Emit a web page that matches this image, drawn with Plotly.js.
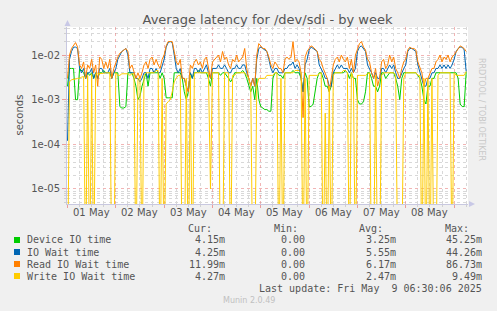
<!DOCTYPE html>
<html><head><meta charset="utf-8">
<script src="https://cdn.plot.ly/plotly-3.0.1.min.js"></script>
<style>html,body{margin:0;padding:0;background:#F0F0F0;}#chart{width:497px;height:311px;}</style>
</head><body><div id="chart"></div>
<script>
// Hourly samples, hour 0 = 01 May 00:00, values in milliseconds
const deviceIO = [2,5,5,5,1.0,1.0,
5,4.5,4,3,4,3.5,4,3,4,3,4,4,4.5,4,4,4,3,4,
4,4,0.7,0.65,0.65,0.7,4,4,4,3,2,1,1.2,2,3,4,2,4,4,4,4,4,3,4,
3,1.1,1.1,1.1,1.1,4,4,4,4,3,1.5,1,1.5,4,3,4,4,4.5,4,4,4,4,3,2,
4,4,4,4,3.5,4,4,3.5,3,2.5,3,4,4,4,4,4.5,4,3,2,1.5,2,1,3,1,
0.7,0.65,0.6,0.6,0.55,0.55,3,4,4,3.5,3.5,3,4,4,4,4,4.5,4,4,4,3,1.5,4,3,
0.7,0.7,0.8,1.5,3,4,4,3,2,2,1.5,2,4,4,4,4,4,4,4.5,4,3,4,3,3,
1,0.8,0.8,0.9,1.5,4,4,3,2,2,1.5,2,4,4,3,3.5,4,4,4,3,2,1,3,4,
4,4,4,4,4,4,3.5,3,2,1,0.8,2,2,3,3,4,4,4,4,4,4,4,4,4,
4,4,3,0.8,0.7,0.7,4.15];
const ioWait = [0.12,8,12,15,15,14,
5,4,5,3,4,4,5,3,4,3,5,5,4,4,4,5,3,4,
5,8,10,12,13,14,10,4,4,4,3,3,2.5,3,4,4,3,5,5,4,5,4,4,6,
8,15,19,20,19,10,5,4,5,3,3,2,1.5,4,3,5,5,4,5,4,5,6,4,3,
5,5,5,6,5,5,6,5,4,4,5,5,6,5,5,6,6,4,3,2,3,2,8,14,
15,14,13,12,8,5,4,5,5,4,4,4,5,5,6,6,7,5,6,5,3,1.5,6,8,
13,15,14,13,12,6,5,4,3,3,2,2,4,5,6,5,6,5,5,5,4,5,4,5,
12,15,16,14,12,6,5,4,3,4,3,3,5,5,4,5,6,5,6,4,3,3,4,5,
6,12,14,14,13,12,6,4,3,2,2,3,3,4,4,5,5,6,5,6,5,6,5,6,
8,12,14,15,15,13,4.25];
const readWait = [3,10,14,16,19,15,
6,5,7,3,6,5,8,4,6,2,9,8,5,7,5,8,3,5,
7,9,11,12,13,14,12,5,6,4,3,4,3,4,6,7,5,8,9,6,8,6,5,8,
10,16,20,20,20,12,7,6,8,3,3,2,1.5,6,5,7,8,6,7,5,8,9,5,3,
7,8,9,10,7,12,8,9,6,5,8,7,10,7,8,9,14,5,3,2,3,2,10,18,
16,14,14,12,9,6,5,7,6,5,5,4,8,9,8,9,20,7,8,7,4,0.4,9,12,
14,16,15,13,12,8,7,5,4,3,1.5,3,6,8,9,7,10,8,7,9,5,8,4,10,
14,18,20,15,13,8,7,4,3,5,2,3,7,8,5,6,10,7,9,5,4,3,5,7,
8,13,15,14,14,13,7,5,4,2,3,3,4,5,5,7,8,10,7,9,8,10,7,9,
10,12,14,16,15,14,12];
const writeWait = [0,2.5,2.8,2.8,2.9,3,
3,3.2,3.3,0,3.5,0,3.8,0,3.8,3.8,3.8,3.8,3.9,4,4,4,0,0,
4,3.5,3.5,3.8,3.8,3.8,3.8,3.5,3.8,3.8,0,3,3,0,3.5,4,4,4,4,4,4.5,4.5,0,3,
0,0.8,0.9,1,1.5,2.5,3,3.5,3.5,0,0,3,0,3.5,0,4,4,4,4,4,4,4,4,0.01,
4,4,4,4,0,0,4,4,4,0,3.5,3.5,4,4,4,4,4,3.5,3,2,0,0,2,3,
3,3,3,3.5,3.5,3.5,3.5,4,4,0,3,0,4,4,4,4,4,4.5,4.5,4.5,4,0,3,0,
3.5,3.5,3.5,3.5,3.5,3.8,4,0,0.5,0,2,0,3.5,4,4,4,4,4.5,4.5,4,0,4,3,0,
3.5,3.5,3.5,3.5,3.5,3.8,4,0,0,3.5,0,0,3.5,4,4,4,4,4,4,3.5,0,0,0,3,
4,4,4,4,4,4,3.5,3.5,0,3,0,3,0,3,0,0,3.5,4,4,4,4,4,4,0,
4,3.5,3.5,3.5,3.5,3.5,4.27];

const seriesNames = ["Device IO time","IO Wait time","Read IO Wait time","Write IO Wait time"];
const seriesColors = ["#00CC00","#0066B3","#FF8000","#FFCC00"];
const curVals = ["4.15m","4.25m","11.99m","4.27m"];
const minVals = ["0.00","0.00","0.00","0.00"];
const avgVals = ["3.25m","5.55m","6.17m","2.47m"];
const maxVals = ["45.25m","44.26m","86.73m","9.49m"];
const dayLabels = ["01 May","02 May","03 May","04 May","05 May","06 May","07 May","08 May"];
const dayLabelHours = [12,36,60,84,108,132,156,180];
const yTickVals = [1e-5,1e-4,1e-3,1e-2];
const yTickText = ["1e-05","1e-04","1e-03","1e-02"];
const lastUpdate = "Last update: Fri May  9 06:30:06 2025";

const FLOOR = 1e-7; // zero values drawn to the bottom of the log axis
const toSec = arr => arr.map(v => v === 0 ? FLOOR : v / 1000);
const hours = deviceIO.map((_, i) => i);
const allSeries = [deviceIO, ioWait, readWait, writeWait];

const traces = allSeries.map((s, i) => ({
  x: hours, y: toSec(s), type: 'scatter', mode: 'lines',
  line: {color: seriesColors[i], width: 1}, name: seriesNames[i],
  hoverinfo: 'skip'
}));

// pixel -> paper conversion
const L = 67, T = 27, W = 401, H = 177;
const px = x => (x - L) / W;
const py = y => (T + H - y) / H;

const minorY = [];
for (let e = -6; e <= -1; e++) for (let k = 2; k <= 9; k++) minorY.push(k * Math.pow(10, e));

const annotations = [];
const shapes = [];
const mono = 'DejaVu Sans Mono, monospace';
const sans = 'DejaVu Sans, sans-serif';
const txt = '#555555';

// x day labels
dayLabels.forEach((d, i) => annotations.push({
  x: dayLabelHours[i], xref: 'x', y: py(212.5), yref: 'paper', text: d,
  showarrow: false, xanchor: 'center', yanchor: 'middle',
  font: {family: sans, size: 10, color: txt}
}));
// y title
annotations.push({x: px(11), y: py(115), xref: 'paper', yref: 'paper', text: 'seconds',
  textangle: -90, showarrow: false, font: {family: sans, size: 10, color: txt}});
// right vertical credit
annotations.push({x: px(488), y: py(56), xref: 'paper', yref: 'paper', text: 'RRDTOOL / TOBI OETIKER',
  textangle: 90, showarrow: false, font: {family: sans, size: 8, color: '#c8c8c8'}});

// legend header
const headers = [["Cur:", 213], ["Min:", 299], ["Avg:", 384], ["Max:", 470]];
headers.forEach(h => annotations.push({x: px(h[1]), y: py(228), xref: 'paper', yref: 'paper',
  text: h[0], showarrow: false, xanchor: 'right', yanchor: 'middle', borderpad: 0,
  font: {family: mono, size: 10, color: txt}}));

const rows = [240, 252, 264, 276];
const cols = [[curVals, 226], [minVals, 306], [avgVals, 397], [maxVals, 483]];
seriesNames.forEach((n, i) => {
  const ry = rows[i];
  shapes.push({type: 'rect', xref: 'paper', yref: 'paper', x0: px(14), x1: px(20),
    y0: py(ry + 3), y1: py(ry - 3), fillcolor: seriesColors[i], line: {width: 0}});
  annotations.push({x: px(26), y: py(ry), xref: 'paper', yref: 'paper', text: n,
    showarrow: false, xanchor: 'left', yanchor: 'middle', borderpad: 0,
    font: {family: mono, size: 10, color: txt}});
  cols.forEach(c => annotations.push({x: px(c[1]), y: py(ry), xref: 'paper', yref: 'paper',
    text: c[0][i], showarrow: false, xanchor: 'right', yanchor: 'middle', borderpad: 0,
    font: {family: mono, size: 10, color: txt}}));
});
annotations.push({x: px(483), y: py(288), xref: 'paper', yref: 'paper', text: lastUpdate,
  showarrow: false, xanchor: 'right', yanchor: 'middle', borderpad: 0,
  font: {family: mono, size: 10, color: txt}});
annotations.push({x: px(249), y: py(300), xref: 'paper', yref: 'paper', text: 'Munin 2.0.49',
  showarrow: false, xanchor: 'center', yanchor: 'middle',
  font: {family: sans, size: 8, color: '#c0c0c0'}});

// axis arrows
const ac = '#c8c8e6';
shapes.push({type: 'path', xref: 'paper', yref: 'paper', fillcolor: ac, line: {width: 0},
  path: `M ${px(67.5)} ${py(20)} L ${px(64.5)} ${py(26)} L ${px(70.5)} ${py(26)} Z`});
shapes.push({type: 'path', xref: 'paper', yref: 'paper', fillcolor: ac, line: {width: 0},
  path: `M ${px(475)} ${py(204)} L ${px(469)} ${py(201)} L ${px(469)} ${py(207)} Z`});

const layout = {
  width: 497, height: 311,
  margin: {l: L, r: 497 - L - W, t: T, b: 311 - T - H, pad: 0},
  paper_bgcolor: '#F0F0F0', plot_bgcolor: '#FFFFFF',
  showlegend: false,
  title: {text: 'Average latency for /dev/sdi - by week', x: 0.5, xref: 'paper',
    y: 1 - 19 / 311, yref: 'container', xanchor: 'center', yanchor: 'middle',
    font: {family: sans, size: 13, color: txt}},
  xaxis: {range: [-0.25, 198.9], tick0: 0, dtick: 24, showticklabels: false,
    showgrid: true, gridcolor: 'rgba(230,120,120,0.55)', griddash: 'dot', gridwidth: 1,
    ticks: 'outside', ticklen: 3, tickcolor: 'rgba(230,120,120,0.7)',
    showline: true, linecolor: '#c8c8e0', linewidth: 1, zeroline: false,
    minor: {dtick: 6, showgrid: true, gridcolor: '#d8d8d8', griddash: 'dot',
      ticks: 'outside', ticklen: 2, tickcolor: '#d0d0d0'}},
  yaxis: {type: 'log', range: [-5.336, -1.373], tickvals: yTickVals, ticktext: yTickText,
    showgrid: true, gridcolor: 'rgba(230,120,120,0.55)', griddash: 'dot',
    ticks: 'outside', ticklen: 4, tickcolor: 'rgba(230,120,120,0.7)',
    tickfont: {family: sans, size: 10, color: txt},
    showline: true, linecolor: '#c8c8e0', zeroline: false,
    minor: {tickvals: minorY, showgrid: true, gridcolor: '#d8d8d8', griddash: 'dot',
      ticks: 'outside', ticklen: 2, tickcolor: '#d0d0d0'}},
  annotations: annotations, shapes: shapes
};

Plotly.newPlot('chart', traces, layout, {staticPlot: true, displayModeBar: false});
</script></body></html>
